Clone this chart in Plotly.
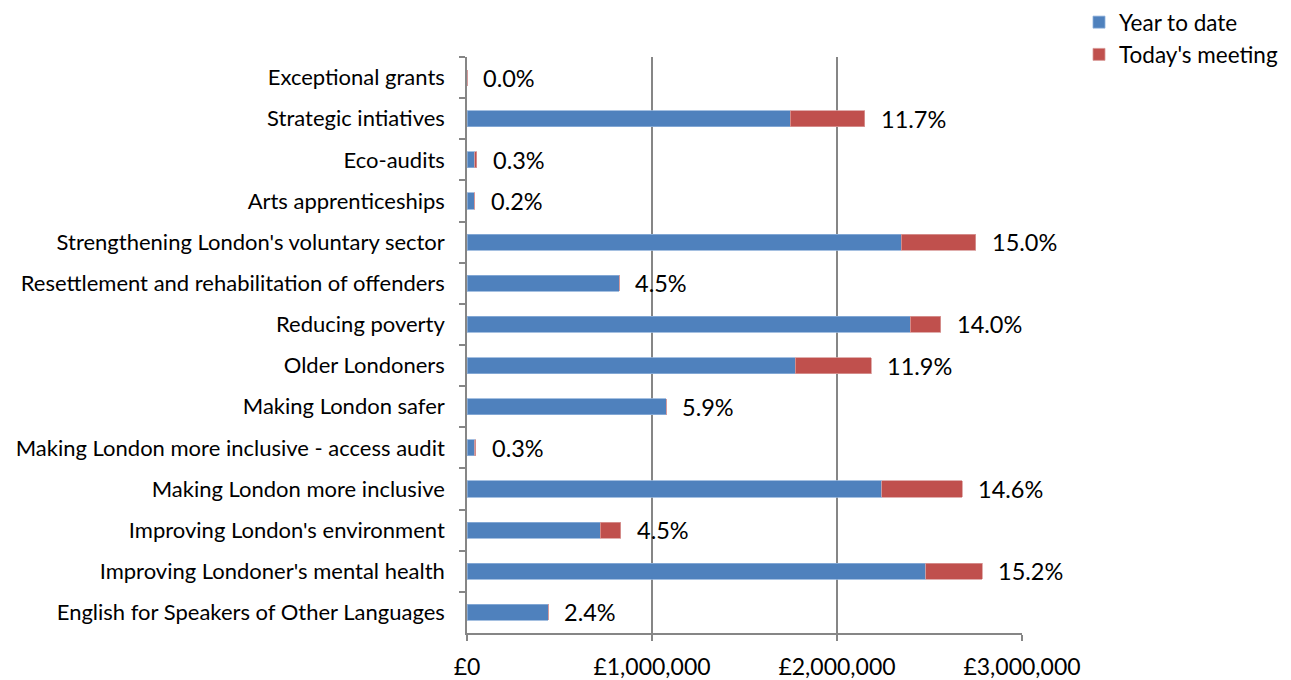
import plotly.graph_objects as go

categories = [
    "Exceptional grants",
    "Strategic intiatives",
    "Eco-audits",
    "Arts apprenticeships",
    "Strengthening London's voluntary sector",
    "Resettlement and rehabilitation of offenders",
    "Reducing poverty",
    "Older Londoners",
    "Making London safer",
    "Making London more inclusive - access audit",
    "Making London more inclusive",
    "Improving London's environment",
    "Improving Londoner's mental health",
    "English for Speakers of Other Languages",
]
year_to_date = [0, 1746000, 43000, 38000, 2346000, 822000, 2395000, 1773000,
                1076000, 43000, 2243000, 719000, 2481000, 438000]
todays_meeting = [0, 405000, 11000, 5000, 405000, 0, 167000, 411000,
                  0, 5000, 433000, 113000, 303000, 0]
pct_labels = ["0.0%", "11.7%", "0.3%", "0.2%", "15.0%", "4.5%", "14.0%", "11.9%",
              "5.9%", "0.3%", "14.6%", "4.5%", "15.2%", "2.4%"]
x_tickvals = [0, 1000000, 2000000, 3000000]
x_ticktext = ["£0", "£1,000,000", "£2,000,000", "£3,000,000"]

FONT = "Lato"
BLUE = "#4F81BD"
RED = "#C0504D"
GRID = "#868686"

# page body has ~8px margin, so offset figure coordinates
OFF = 8
L, T = 467 - OFF, 57 - OFF
PW, PH = 555, 576
W, H = 1291, 680
R = W - L - PW
B = H - T - PH

fig = go.Figure()
fig.add_trace(go.Bar(
    y=categories, x=year_to_date, orientation="h", name="Year to date",
    marker=dict(color=BLUE, line=dict(color="#8EB0DA", width=0.8)), width=0.39,
))
fig.add_trace(go.Bar(
    y=categories, x=todays_meeting, orientation="h", name="Today's meeting",
    marker=dict(color=RED, line=dict(color="#D89A98", width=0.8)), width=0.39,
))

for cat, a, b, lab in zip(categories, year_to_date, todays_meeting, pct_labels):
    fig.add_annotation(
        x=a + b, y=cat, text=lab, showarrow=False, xanchor="left",
        xshift=14, font=dict(family=FONT, size=23.5, color="#000000"),
    )

fig.update_layout(
    barmode="stack",
    width=W, height=H,
    paper_bgcolor="white", plot_bgcolor="white",
    margin=dict(l=L, r=R, t=T, b=B, autoexpand=False),
    font=dict(family=FONT, size=22, color="#000000"),
    legend=dict(
        x=(1079 - OFF - L) / PW, xref="paper", xanchor="left",
        y=1 + (T + 7) / PH, yref="paper", yanchor="top",
        font=dict(family=FONT, size=22.5),
        traceorder="normal", itemwidth=30, bgcolor="rgba(0,0,0,0)",
    ),
    showlegend=True,
)

fig.update_xaxes(
    range=[0, 3000000], tickvals=x_tickvals, ticktext=x_ticktext,
    showgrid=True, gridcolor=GRID, gridwidth=1.5,
    showline=True, linecolor=GRID, linewidth=1.5,
    ticks="outside", ticklen=6, tickcolor=GRID, tickwidth=1.5,
    tickfont=dict(family=FONT, size=23), zeroline=False,
    ticklabelstandoff=7,
)
fig.update_yaxes(
    autorange="reversed", categoryorder="array", categoryarray=categories,
    showline=True, linecolor=GRID, linewidth=1.5,
    ticks="outside", ticklen=6, tickcolor=GRID, tickwidth=1.5,
    tickson="boundaries", showgrid=False,
    tickfont=dict(family=FONT, size=22), ticklabelstandoff=16,
)

fig.write_html("out.html")
